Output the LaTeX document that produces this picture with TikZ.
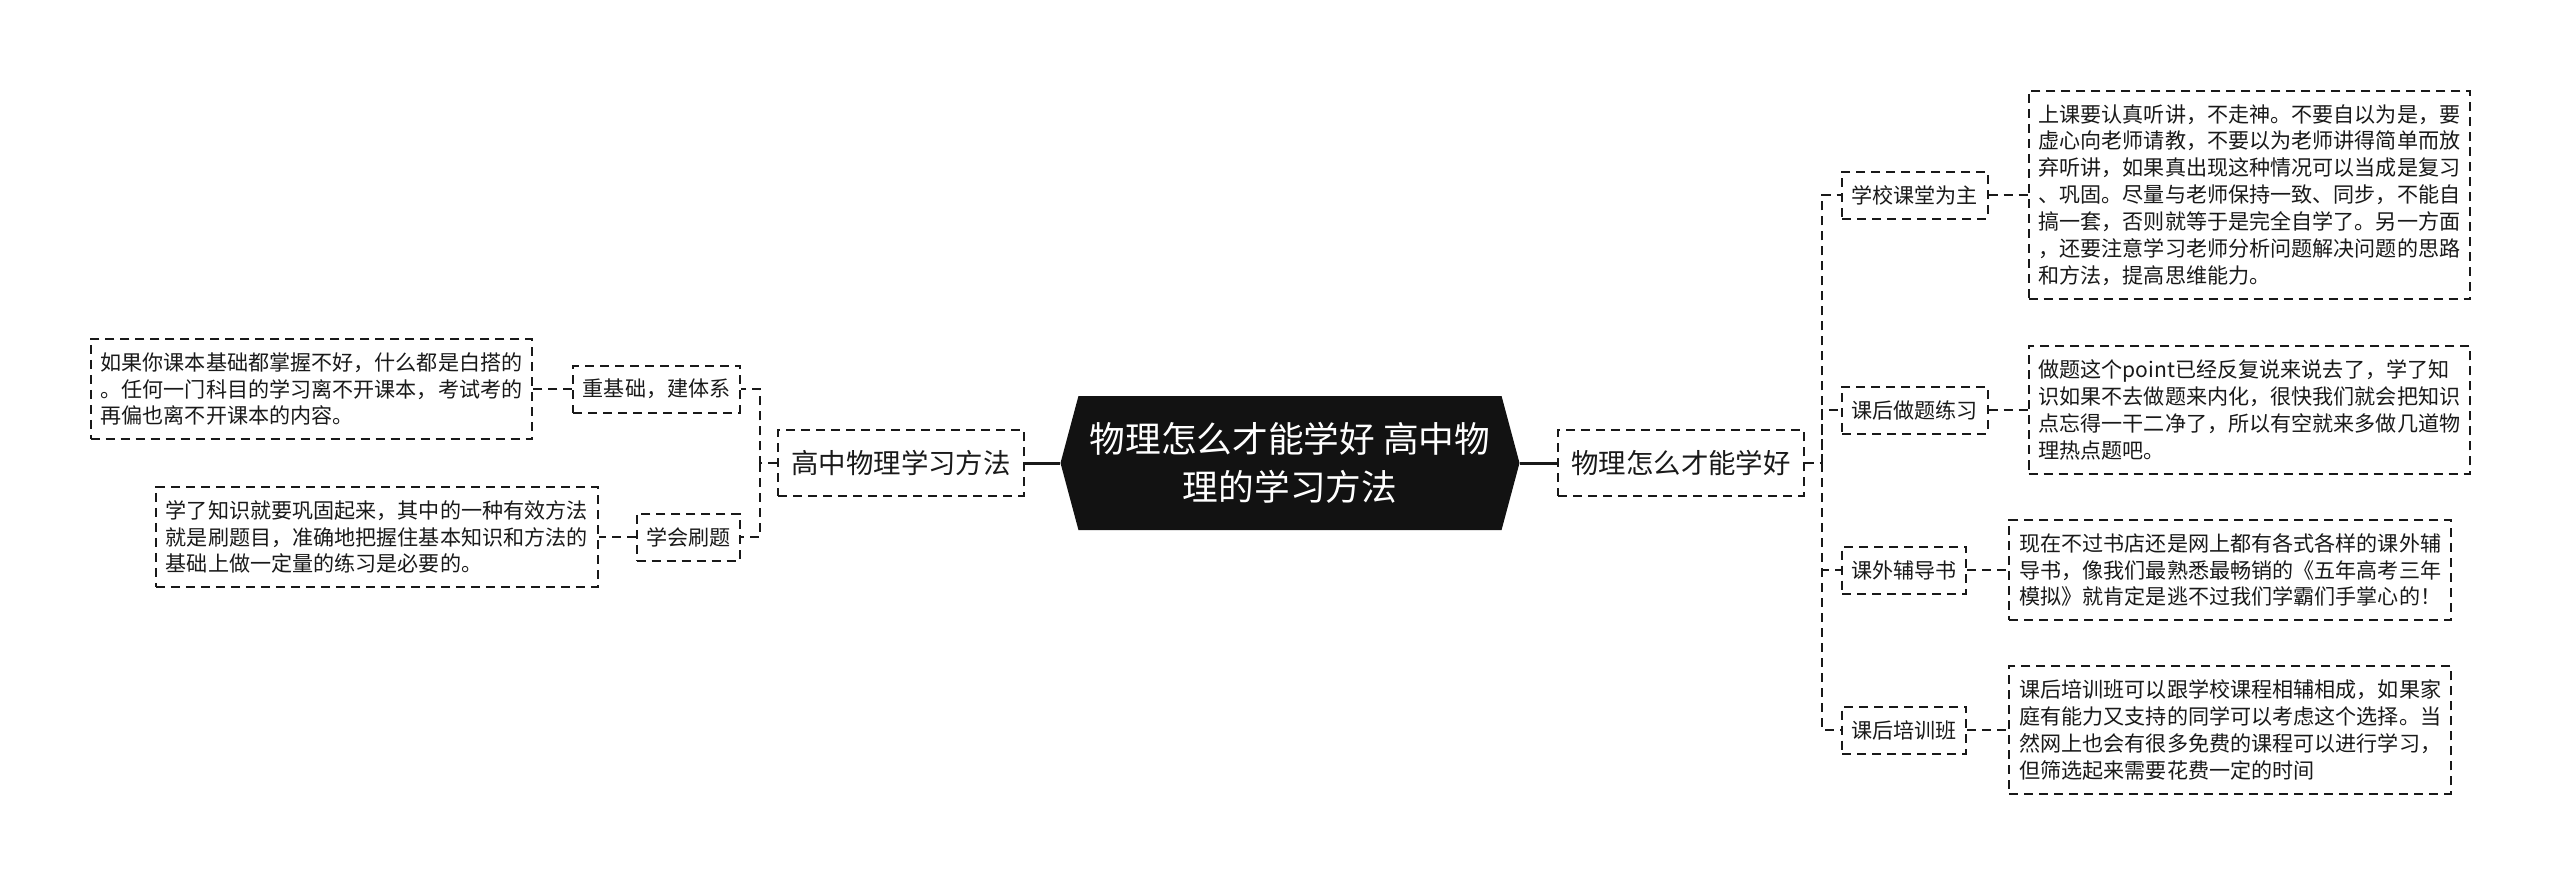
\documentclass[tikz,border=0pt]{standalone}
\usepackage{fontspec}
\newfontfamily\cjk{Noto Sans CJK SC}
\usepackage{tikz}
\usetikzlibrary{positioning}
\usetikzlibrary{shapes.symbols}

\begin{document}
\begin{tikzpicture}[x=0.2mm,y=-0.2mm,
  topic/.style={shape=signal,signal to=west and east,signal pointer angle=150,fill=black!93,text=white,
    minimum width=91.8mm,minimum height=26.8mm,inner sep=0pt,align=center,font=\cjk\fontsize{20.3}{27}\selectfont},
  box/.style={draw=black!90,line width=0.4mm,dash pattern=on 1.8mm off 1.2mm,text=black!90},
  branch/.style={box,minimum height=13.2mm,inner xsep=2.6mm,font=\cjk\fontsize{15.6}{18}\selectfont},
  item/.style={box,minimum height=9.4mm,inner xsep=1.9mm,font=\cjk\fontsize{12}{15.3}\selectfont},
  note/.style={box,align=left,inner xsep=2mm,inner ysep=2.7mm,font=\cjk\fontsize{12}{15.3}\selectfont},
  link/.style={draw=black!90,line width=0.4mm,dash pattern=on 1.8mm off 1.2mm},
  trunk/.style={draw=black!90,line width=0.6mm}]
          \useasboundingbox (0,0) rectangle (2560,887);

          \node[topic] (T) at (1290,463) {物理怎么才能学好 高中物\\理的学习方法};
          \node[branch] (L) at (901,463) {高中物理学习方法};
          \node[branch] (R) at (1681,463) {物理怎么才能学好};

          \node[item,anchor=east] (L1) at (741,389) {重基础，建体系};
          \node[item,anchor=east] (L2) at (741,537) {学会刷题};
          \node[note,left=7.8mm of L1] (L1n) {如果你课本基础都掌握不好，什么都是白搭的\\。任何一门科目的学习离不开课本，考试考的\\再偏也离不开课本的内容。};
          \node[note,left=7.4mm of L2] (L2n) {学了知识就要巩固起来，其中的一种有效方法\\就是刷题目，准确地把握住基本知识和方法的\\基础上做一定量的练习是必要的。};

          \node[item,anchor=west] (R1) at (1841,195) {学校课堂为主};
          \node[item,anchor=west] (R2) at (1841,410) {课后做题练习};
          \node[item,anchor=west] (R3) at (1841,570) {课外辅导书};
          \node[item,anchor=west] (R4) at (1841,730) {课后培训班};
          \node[note,right=7.8mm of R1] (R1n) {上课要认真听讲，不走神。不要自以为是，要\\虚心向老师请教，不要以为老师讲得简单而放\\弃听讲，如果真出现这种情况可以当成是复习\\、巩固。尽量与老师保持一致、同步，不能自\\搞一套，否则就等于是完全自学了。另一方面\\，还要注意学习老师分析问题解决问题的思路\\和方法，提高思维能力。};
          \node[note,right=7.8mm of R2] (R2n) {做题这个point已经反复说来说去了，学了知\\识如果不去做题来内化，很快我们就会把知识\\点忘得一干二净了，所以有空就来多做几道物\\理热点题吧。};
          \node[note,right=8.2mm of R3] (R3n) {现在不过书店还是网上都有各式各样的课外辅\\导书，像我们最熟悉最畅销的《五年高考三年\\模拟》就肯定是逃不过我们学霸们手掌心的！};
          \node[note,right=8.2mm of R4] (R4n) {课后培训班可以跟学校课程相辅相成，如果家\\庭有能力又支持的同学可以考虑这个选择。当\\然网上也会有很多免费的课程可以进行学习，\\但筛选起来需要花费一定的时间};

          \coordinate (Lbus) at (760,463);
          \coordinate (Rbus) at (1822,463);

          \draw[trunk] (T.west) -- (L.east);
          \draw[trunk] (T.east) -- (R.west);
          \draw[link] (L.west) -- (Lbus) |- (L1.east);
          \draw[link] (Lbus) |- (L2.east);
          \draw[link] (R.east) -- (Rbus) |- (R1.west);
          \draw[link] (Rbus) |- (R2.west);
          \draw[link] (Rbus) |- (R3.west);
          \draw[link] (Rbus) |- (R4.west);
          \draw[link] (L1.west) -- (L1n.east);
          \draw[link] (L2.west) -- (L2n.east);
          \draw[link] (R1.east) -- (R1n.west);
          \draw[link] (R2.east) -- (R2n.west);
          \draw[link] (R3.east) -- (R3n.west);
          \draw[link] (R4.east) -- (R4n.west);
        \end{tikzpicture}
\end{document}
